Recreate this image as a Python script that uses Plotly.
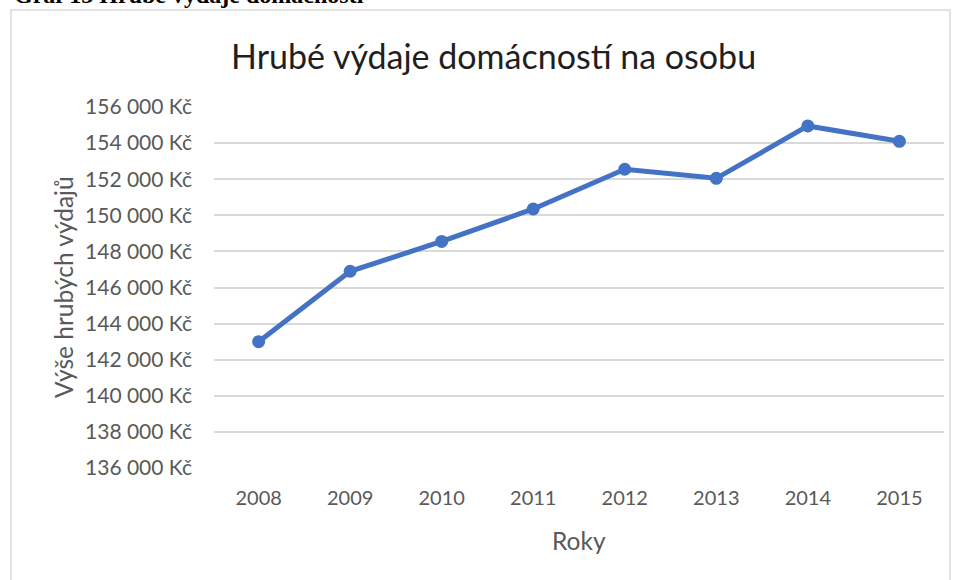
import plotly.graph_objects as go

# Hrube vydaje domacnosti na osobu (Kc)
years = ["2008", "2009", "2010", "2011", "2012", "2013", "2014", "2015"]
spending = [143000, 146900, 148550, 150350, 152550, 152050, 154950, 154100]
y_ticks = list(range(136000, 156001, 2000))
y_tick_labels = [f"{v // 1000} 000 Kč" for v in y_ticks]

W, H = 959, 580
L, R, T, B = 214, 15, 107, 112
PW, PH = W - L - R, H - T - B


def px_x(x):
    return (x - L) / PW


def px_y(y):
    return (H - B - y) / PH


font_family = "Lato"
tick_color = "#595959"

fig = go.Figure()
fig.add_trace(go.Scatter(x=years, y=spending, mode="lines+markers",
                         line=dict(color="#4472C4", width=5),
                         marker=dict(color="#4472C4", size=13),
                         hoverinfo="x+y"))

fig.update_layout(
    width=W, height=H, margin=dict(l=L, r=R, t=T, b=B),
    paper_bgcolor="white", plot_bgcolor="white", showlegend=False,
    font=dict(family=font_family, color=tick_color, size=20),
    xaxis=dict(type="category", showgrid=False, zeroline=False, showline=False,
               ticks="", ticklabelstandoff=16,
               tickfont=dict(family=font_family, size=20, color=tick_color)),
    yaxis=dict(range=[136000, 156000], tickvals=y_ticks, ticktext=y_tick_labels,
               showgrid=True, gridcolor="#d9d9d9", gridwidth=1.5, zeroline=False,
               showline=False, ticks="", ticklabelstandoff=21,
               tickfont=dict(family=font_family, size=21, color=tick_color)),
)

# chart border
fig.add_shape(type="rect", xref="paper", yref="paper",
              x0=px_x(11), x1=px_x(950), y0=px_y(595), y1=px_y(10),
              line=dict(color="#d9d9d9", width=1.5), fillcolor="rgba(0,0,0,0)", layer="below")

annotations = [
    dict(text="Hrubé výdaje domácností na osobu", x=px_x(493), y=px_y(55),
         font=dict(family=font_family, size=34, color="#1f1f1f")),
    dict(text="Výše hrubých výdajů", x=px_x(63), y=px_y(287), textangle=-90,
         font=dict(family=font_family, size=24.5, color=tick_color)),
    dict(text="Roky", x=px_x(579), y=px_y(540),
         font=dict(family=font_family, size=24.5, color=tick_color)),
    # page caption above the chart, cut off at the top edge like in the source
    dict(text="<b>Graf 13 Hrubé výdaje domácností</b>", x=px_x(12), y=px_y(-5),
         xanchor="left", font=dict(family="Liberation Serif", size=24, color="black")),
]
for a in annotations:
    a.setdefault("xanchor", "center")
    fig.add_annotation(xref="paper", yref="paper", yanchor="middle",
                       showarrow=False, **a)

fig.write_html("out.html", config={"displayModeBar": False},
               post_script="document.body.style.margin = '0';")
